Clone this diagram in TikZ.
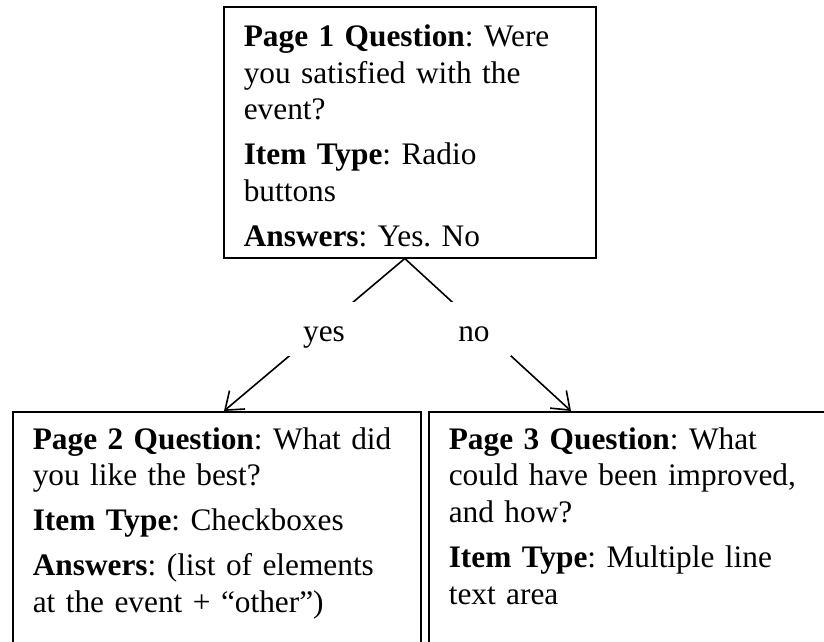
\documentclass[tikz,border=0pt]{standalone}
\usepackage{fontspec}
\setmainfont{Liberation Serif}
\usetikzlibrary{positioning,arrows.meta,calc}
\frenchspacing

\begin{document}
\begin{tikzpicture}[
  x=0.375pt, y=-0.375pt,
  every node/.style={font=\fontsize{11.75}{13.8}\selectfont\frenchspacing},
  qbox/.style={rectangle, draw=black, line width=0.6pt, anchor=north west,
               align=left, inner xsep=7.5pt, inner ysep=0pt,
               text height=14.8pt, text depth=79.3pt},
  lbl/.style={rectangle, fill=white, inner sep=0pt, anchor=base,
              minimum width=27.75pt, text height=15pt, text depth=5.25pt},
  arr/.style={-{Straight Barb[length=6pt,width=9pt]}, line width=0.6pt},
]
\useasboundingbox (0,0) rectangle (824,642);
\clip (0,0) rectangle (824,642);

% Question pages
\node[qbox, text width=124.5pt] (page1) at (223,6)
  {\textbf{Page 1 Question}: Were\\ you satisfied with the\\ event?\\[3pt]
   \textbf{Item Type}: Radio\\ buttons\\[3pt]
   \textbf{Answers}: Yes. No};
\node[qbox, text width=138pt, text height=14pt] (page2) at (12,411)
  {\textbf{Page 2 Question}: What did\\ you like the best?\\[3pt]
   \textbf{Item Type}: Checkboxes\\[3pt]
   \textbf{Answers}: (list of elements\\ at the event + “other”)};
\node[qbox, text width=138.75pt, text height=14pt] (page3) at (428,411)
  {\textbf{Page 3 Question}: What\\ could have been improved,\\ and how?\\[3pt]
   \textbf{Item Type}: Multiple line\\ text area};

% Branch ends
\coordinate (fork) at ($(page1.south)+(-5,0)$);
\coordinate (yestip) at ($(page2.north west)+(212,0)$);
\coordinate (notip) at ($(page3.north west)+(143,0)$);

\draw[arr] (fork) -- (yestip);
\draw[arr] (fork) -- (notip);

% Answer labels
\node[lbl] (yes) at (324,342) {yes};
\node[lbl] (no) at (474,342) {no};

\end{tikzpicture}
\end{document}
